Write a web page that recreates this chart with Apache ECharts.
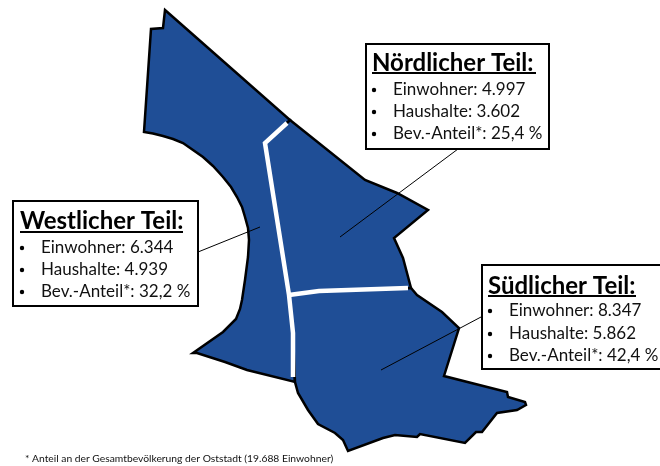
<!DOCTYPE html>
<html>
<head>
<meta charset="utf-8">
<style>html,body{margin:0;padding:0;background:#fff}#main{width:660px;height:466px}</style>
<script src="https://cdn.jsdelivr.net/npm/echarts@6/dist/echarts.min.js"></script>
</head>
<body>
<div id="main"></div>
<script>
//Teile der Oststadt
var names = ['Nördlicher Teil', 'Westlicher Teil', 'Südlicher Teil'];
var einwohner = ['4.997', '6.344', '8.347'];
var haushalte = ['3.602', '4.939', '5.862'];
var anteil = ['25,4 %', '32,2 %', '42,4 %'];
var footnote = '* Anteil an der Gesamtbevölkerung der Oststadt (19.688 Einwohner)';

//Umrisse
var nordShape = [[290,120],[365,180],[397,193],[428,210],[394,238],[403,258],[411,288],[319,291],[289,295],[265,143]];
var westShape = [[165,10],[290,120],[265,143],[289,295],[293,333],[295,382],[247,370],[225,362],[197,353],[193,353],[223,332],[236,319],[240,309],[242,300],[245,280],[248,257],[249,240],[248,228],[245,217],[242,207],[237,197],[231,187],[223,177],[213,166],[203,157],[193,150],[183,143],[173,139],[163,136],[153,133.5],[144,132],[151,29],[163,28]];
var suedShape = [[289,295],[319,291],[411,288],[417,295],[442,312],[459,328],[444,376],[507,392],[508,397],[525,402],[526,405],[517,410],[497,413],[482,432],[476,432],[465,443],[420,434],[417,437],[395,435],[383,438],[348,451],[343,440],[335,433],[318,424],[308,410],[298,393],[295,382],[293,333]];
var shapes = [nordShape, westShape, suedShape];

//Trennlinien und Hinweislinien
var dividers = [
    [[287,123],[265,143],[289,295],[293,333],[293,377]],
    [[289,295],[319,291],[408,288]]
];
var pointers = [
    [[340,237],[458,149]],
    [[260,227],[198,252]],
    [[381,370],[481,317]]
];

var chart = echarts.init(document.getElementById('main'));

var features = [];
for(var i = 0;i<names.length;i++){
    features.push({
        type: 'Feature',
        properties: {name: names[i]},
        geometry: {type: 'Polygon', coordinates: [shapes[i]]}
    });
}
echarts.registerMap('oststadt', {type: 'FeatureCollection', features: features});

function toLines(list){
    var out = [];
    for(var i = 0;i<list.length;i++){
        out.push({coords: list[i]});
    }
    return out;
}

var FONT = 'Lato';
//Infokästen: x, y, Breite, Höhe des Kastens
var boxes = [
    {x: 366, y: 44, w: 183, h: 105, tx: 372, ty: 63, line: 73, tw: 164, ly: [90, 112, 134]},
    {x: 13, y: 201, w: 185, h: 105, tx: 20, ty: 221, line: 232, tw: 163, ly: [248, 270, 292]},
    {x: 482, y: 265, w: 190, h: 104, tx: 488, ty: 286, line: 296, tw: 148, ly: [311, 334, 356]}
];
var graphic = [];
for(var b = 0;b<boxes.length;b++){
    var box = boxes[b];
    var rows = [
        'Einwohner: ' + einwohner[b],
        'Haushalte: ' + haushalte[b],
        'Bev.-Anteil*: ' + anteil[b]
    ];
    graphic.push({
        type: 'rect', z: 10,
        shape: {x: box.x, y: box.y, width: box.w, height: box.h},
        style: {fill: '#fff', stroke: '#000', lineWidth: 2}
    });
    graphic.push({
        type: 'text', z: 11, x: box.tx, y: box.ty,
        style: {text: names[b] + ':', fill: '#000', font: 'bold 24px ' + FONT, textVerticalAlign: 'middle'}
    });
    graphic.push({
        type: 'line', z: 11,
        shape: {x1: box.tx, y1: box.line, x2: box.tx + box.tw, y2: box.line},
        style: {stroke: '#000', lineWidth: 2}
    });
    for(var r = 0;r<rows.length;r++){
        graphic.push({
            type: 'circle', z: 11,
            shape: {cx: box.tx + 2, cy: box.ly[r], r: 2.2},
            style: {fill: '#000'}
        });
        graphic.push({
            type: 'text', z: 11, x: box.tx + 21, y: box.ly[r],
            style: {text: rows[r], fill: '#111', font: '17px ' + FONT, textVerticalAlign: 'middle'}
        });
    }
}
graphic.push({
    type: 'text', x: 25, y: 459,
    style: {text: footnote, fill: '#111', font: '10.3px ' + FONT, textVerticalAlign: 'middle'}
});

var option = {
    animation: false,
    backgroundColor: '#fff',
    tooltip: {show: false},
    geo: {
        map: 'oststadt',
        roam: false,
        silent: true,
        projection: {
            project: function(p){ return p; },
            unproject: function(p){ return p; }
        },
        boundingCoords: [[0, 0], [660, 466]],
        left: 0, top: 0, width: 660, height: 466,
        label: {show: false},
        itemStyle: {areaColor: '#1f4e96', borderColor: '#000', borderWidth: 2.5}
    },
    graphic: graphic,
    series: [{
        type: 'lines',
        coordinateSystem: 'geo',
        polyline: true,
        silent: true,
        z: 3,
        lineStyle: {color: '#fff', width: 4.5, opacity: 1, join: 'miter'},
        data: toLines(dividers)
    },{
        type: 'lines',
        coordinateSystem: 'geo',
        polyline: true,
        silent: true,
        z: 4,
        lineStyle: {color: '#000', width: 1, opacity: 1},
        data: toLines(pointers)
    }]
};
chart.setOption(option);
</script>
</body>
</html>
